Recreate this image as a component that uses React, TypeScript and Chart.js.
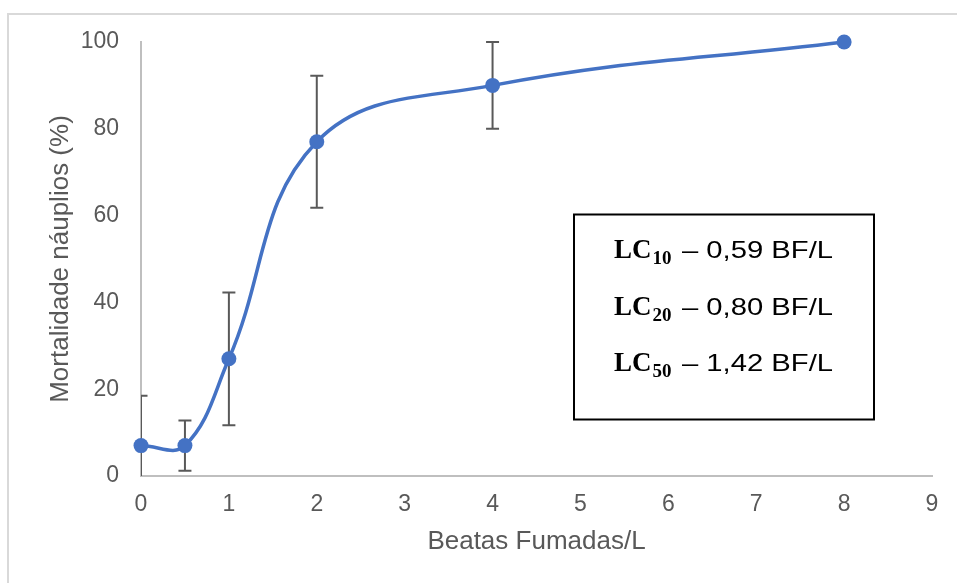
import { useEffect, useRef } from 'react';
import { Chart, registerables } from 'chart.js';

Chart.register(...registerables);

// ---- data ----
const concentrations = [0, 0.5, 1, 2, 4, 8];
const mortality = [7, 7, 27, 77, 90, 100];
const mortalityError = [11.5, 5.8, 15.3, 15.2, 10, 0];
const lcSubscripts = ['10', '20', '50'];
const lcValues = ['0,59', '0,80', '1,42'];
const lcUnit = 'BF/L';
const xTitle = 'Beatas Fumadas/L';
const yTitle = 'Mortalidade náuplios (%)';

const SANS = "'Liberation Sans', Arial, sans-serif";
const SERIF = "'Liberation Serif', 'Times New Roman', serif";
const TEXT_GRAY = '#595959';

const errorBarPlugin = {
  id: 'errorBars',
  beforeDatasetsDraw(chart: any) {
    const { ctx, chartArea, scales } = chart;
    const x = scales.x;
    const y = scales.y;
    ctx.save();
    ctx.beginPath();
    ctx.rect(chartArea.left, chartArea.top - 4, chartArea.right - chartArea.left, chartArea.bottom - chartArea.top + 4);
    ctx.clip();
    ctx.strokeStyle = TEXT_GRAY;
    ctx.lineWidth = 2;
    concentrations.forEach((c, i) => {
      const e = mortalityError[i];
      if (!e) return;
      const px = x.getPixelForValue(c);
      const top = y.getPixelForValue(mortality[i] + e);
      const bot = y.getPixelForValue(mortality[i] - e);
      ctx.beginPath();
      ctx.moveTo(px, top);
      ctx.lineTo(px, bot);
      ctx.moveTo(px - 6.5, top);
      ctx.lineTo(px + 6.5, top);
      ctx.moveTo(px - 6.5, bot);
      ctx.lineTo(px + 6.5, bot);
      ctx.stroke();
    });
    ctx.restore();
  },
};

const decorPlugin = {
  id: 'decor',
  afterDraw(chart: any) {
    const ctx = chart.ctx;
    ctx.save();
    // outer frame
    ctx.strokeStyle = '#d9d9d9';
    ctx.lineWidth = 2;
    ctx.strokeRect(8, 14, 1000, 1000);
    // LC box
    ctx.strokeStyle = '#000';
    ctx.lineWidth = 2;
    ctx.strokeRect(574, 214.5, 300, 205);
    ctx.fillStyle = '#000';
    ctx.textAlign = 'left';
    ctx.textBaseline = 'alphabetic';
    lcSubscripts.forEach((sub, i) => {
      const base = 258 + i * 56.5;
      let xPos = 614;
      ctx.font = `bold 27px ${SERIF}`;
      ctx.fillText('LC', xPos, base);
      xPos += ctx.measureText('LC').width + 1;
      ctx.font = `bold 19px ${SERIF}`;
      ctx.fillText(sub, xPos, base + 6);
      const rest = `– ${lcValues[i]} ${lcUnit}`;
      ctx.font = `24px ${SANS}`;
      const w = ctx.measureText(rest).width;
      const sx = 151 / w;
      ctx.save();
      ctx.translate(682, base);
      ctx.scale(sx, 1);
      ctx.fillText(rest, 0, 0);
      ctx.restore();
    });
    ctx.restore();
  },
};

export default function App() {
  const ref = useRef<HTMLCanvasElement>(null);

  useEffect(() => {
    const canvas = ref.current;
    if (!canvas) return;
    const chart = new Chart(canvas, {
      type: 'scatter',
      data: {
        datasets: [
          {
            data: concentrations.map((c, i) => ({ x: c, y: mortality[i] })),
            showLine: true,
            borderColor: '#4472C4',
            backgroundColor: '#4472C4',
            borderWidth: 3.5,
            tension: 0.4,
            pointRadius: 7.5,
            pointBorderWidth: 0,
            pointHoverRadius: 7.5,
            clip: false as any,
          } as any,
        ],
      },
      options: {
        responsive: false,
        animation: false,
        devicePixelRatio: 1,
        layout: { padding: { left: 0, top: 42, right: 25, bottom: 0 } },
        plugins: {
          legend: { display: false },
          tooltip: { enabled: false },
        },
        scales: {
          x: {
            type: 'linear',
            min: 0,
            max: 9,
            ticks: { stepSize: 1, color: TEXT_GRAY, font: { family: SANS, size: 23 }, padding: 15 },
            grid: { display: false, drawTicks: false },
            border: { display: true, color: '#bfbfbf', width: 2 },
            title: {
              display: true,
              text: xTitle,
              color: TEXT_GRAY,
              font: { family: SANS, size: 26 },
              padding: { top: 0, bottom: 26 },
            },
            afterFit: (s: any) => {
              s.height = 107;
            },
          },
          y: {
            type: 'linear',
            min: 0,
            max: 100,
            ticks: { stepSize: 20, color: TEXT_GRAY, font: { family: SANS, size: 23 }, padding: 22 },
            grid: { display: false, drawTicks: false },
            border: { display: true, color: '#bfbfbf', width: 2 },
            title: {
              display: true,
              text: yTitle,
              color: TEXT_GRAY,
              font: { family: SANS, size: 26 },
              padding: { top: 45, bottom: 0 },
            },
            afterFit: (s: any) => {
              s.width = 141;
            },
          },
        },
      },
      plugins: [errorBarPlugin, decorPlugin],
    } as any);
    return () => chart.destroy();
  }, []);

  return (
    <div style={{ position: 'absolute', left: 0, top: 0, width: 957, height: 583, background: '#fff' }}>
      <canvas ref={ref} width={957} height={583} style={{ display: 'block' }} />
    </div>
  );
}
